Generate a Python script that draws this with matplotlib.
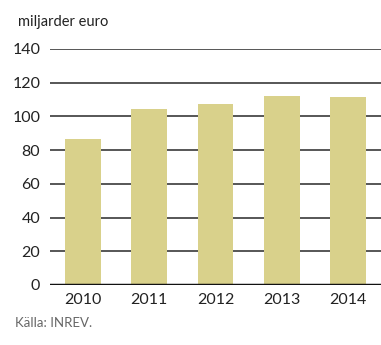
import matplotlib
matplotlib.use("Agg")
from matplotlib import pyplot as plt

years = ["2010", "2011", "2012", "2013", "2014"]
values = [86.5, 104.5, 107.5, 112, 111.5]
yticks = [0, 20, 40, 60, 80, 100, 120, 140]

plt.rcParams['font.family'] = ['Lato', 'DejaVu Sans']

fig = plt.figure(figsize=(3.81, 3.45), dpi=100)
ax = fig.add_axes([50 / 381, 60 / 345, 331 / 381, 236 / 345])

x = range(len(years))
ax.bar(x, values, width=0.54, color="#d9d18b", zorder=3)

for t in yticks[1:]:
    ax.axhline(t, color="#3a3a3a", lw=1.2, zorder=1)
ax.axhline(0, color="#111111", lw=2.5, zorder=4)

ax.set_xlim(-0.5, 4.5)
ax.set_ylim(0, 140)
ax.set_yticks(yticks)
ax.set_yticklabels([str(t) for t in yticks], fontsize=11.5, color="#222222")
ax.set_xticks(list(x))
ax.set_xticklabels(years, fontsize=11.5, color="#222222")
ax.tick_params(length=0, pad=7)
ax.tick_params(axis="x", pad=6)
for s in ax.spines.values():
    s.set_visible(False)

fig.text(18 / 381, 1 - 22 / 345, "miljarder euro", fontsize=10.5, color="#222222", va="center")
fig.text(15 / 381, 1 - 323 / 345, "Källa: INREV.", fontsize=9.5, color="#666666", va="center")

fig.savefig("out.png", dpi=100)
